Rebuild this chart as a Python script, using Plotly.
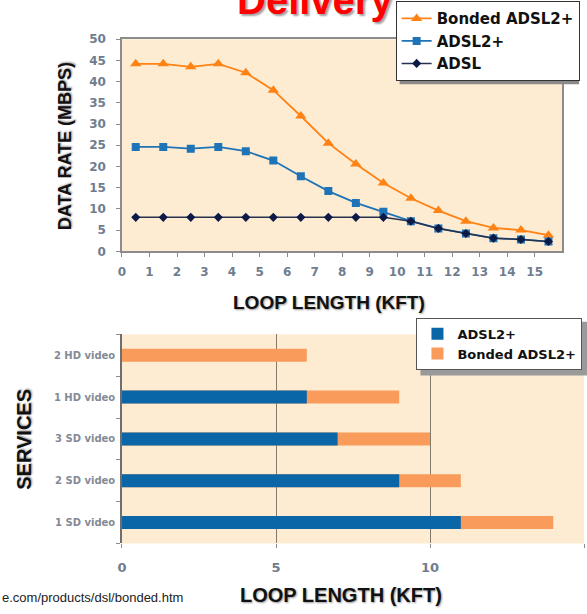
import plotly.graph_objects as go

# ---- data -------------------------------------------------------------
loop_kft = [0.5, 1.5, 2.5, 3.5, 4.5, 5.5, 6.5, 7.5, 8.5, 9.5, 10.5, 11.5, 12.5, 13.5, 14.5, 15.5]
bonded_rate = [44.2, 44.2, 43.5, 44.2, 42.1, 38.0, 31.9, 25.5, 20.6, 16.1, 12.5, 9.6, 7.1, 5.5, 5.0, 3.8]
adsl2p_rate = [24.6, 24.6, 24.2, 24.6, 23.6, 21.4, 17.7, 14.2, 11.4, 9.3, 7.1, 5.4, 4.2, 3.1, 2.8, 2.3]
adsl_rate = [8.0, 8.0, 8.0, 8.0, 8.0, 8.0, 8.0, 8.0, 8.0, 8.0, 7.1, 5.4, 4.2, 3.1, 2.8, 2.3]

services = ["1 SD video", "2 SD video", "3 SD video", "1 HD video", "2 HD video"]
reach_adsl2p = [11, 9, 7, 6, 0]
reach_bonded = [14, 11, 10, 9, 6]

x_ticks = list(range(0, 16))
rate_grid = [10, 20, 30, 40]

# ---- styling ----------------------------------------------------------
W, H = 587, 614
PEACH = "#fdebd2"
GRID = "#857b6c"
TICK_FONT = dict(family="DejaVu Sans", size=12, color="#6f7d8f", weight="bold")
TITLE_FONT = dict(family="Liberation Sans", size=19, color="#111111", weight="bold",
                  shadow="1px 1px 2px #9a9a9a")
LEGEND_FONT = dict(family="DejaVu Sans", size=13, color="#111111", weight="bold")

ORANGE = "#ff8214"
BLUE = "#1f74b8"
NAVY = "#0c1a45"
BAR_BLUE = "#0b66a8"
BAR_ORANGE = "#f99b5b"


def px_x(p):
    return p / W


def px_y(p):
    return 1 - p / H


fig = go.Figure()

# ---- top chart: data rate vs loop length ------------------------------
fig.add_trace(go.Scatter(
    x=loop_kft, y=bonded_rate, name="Bonded ADSL2+", mode="lines+markers",
    line=dict(color=ORANGE, width=1.8),
    marker=dict(symbol="triangle-up", size=10, color=ORANGE),
    xaxis="x", yaxis="y", legend="legend"))
fig.add_trace(go.Scatter(
    x=loop_kft, y=adsl2p_rate, name="ADSL2+", mode="lines+markers",
    line=dict(color=BLUE, width=1.8),
    marker=dict(symbol="square", size=8, color=BLUE),
    xaxis="x", yaxis="y", legend="legend"))
fig.add_trace(go.Scatter(
    x=loop_kft, y=adsl_rate, name="ADSL", mode="lines+markers",
    line=dict(color="#26324f", width=1.5),
    marker=dict(symbol="diamond", size=7, color=NAVY),
    xaxis="x", yaxis="y", legend="legend"))

# ---- bottom chart: service reach ---------------------------------------
fig.add_trace(go.Bar(
    y=services, x=reach_bonded, name="Bonded ADSL2+", orientation="h",
    marker=dict(color=BAR_ORANGE, line=dict(width=0)),
    xaxis="x2", yaxis="y2", legend="legend2", legendrank=2))
fig.add_trace(go.Bar(
    y=services, x=reach_adsl2p, name="ADSL2+", orientation="h",
    marker=dict(color=BAR_BLUE, line=dict(width=0)),
    xaxis="x2", yaxis="y2", legend="legend2", legendrank=1))

fig.update_layout(
    width=W, height=H,
    margin=dict(l=0, r=0, t=0, b=0),
    paper_bgcolor="white",
    plot_bgcolor=PEACH,
    barmode="overlay",
    bargap=0.69,
    showlegend=True,
    xaxis=dict(
        domain=[px_x(118), px_x(562)], range=[0, 16],
        tickvals=x_ticks, ticks="outside", ticklen=4, tickcolor="#8c8c8c",
        ticklabelstandoff=5,
        showgrid=False, zeroline=False,
        showline=True, linecolor="#8c8c8c", linewidth=1.5, mirror=True,
        tickfont=TICK_FONT, anchor="y"),
    yaxis=dict(
        domain=[px_y(250), px_y(33)], range=[0, 50], dtick=5,
        ticks="outside", ticklen=4, tickcolor="#8c8c8c",
        ticklabelstandoff=8,
        showgrid=False, zeroline=False,
        showline=True, linecolor="#8c8c8c", linewidth=1.5, mirror=True,
        tickfont=TICK_FONT, anchor="x"),
    yaxis3=dict(
        overlaying="y", range=[0, 50], tickvals=rate_grid,
        showticklabels=False, showgrid=True, gridcolor=GRID, gridwidth=1.5,
        zeroline=False, showline=False, anchor="x"),
    xaxis2=dict(
        domain=[px_x(118), px_x(584)], range=[0, 15], dtick=5,
        ticks="outside", ticklen=4, tickcolor="#8c8c8c",
        ticklabelstandoff=8,
        showgrid=True, gridcolor=GRID, gridwidth=1.2, zeroline=False,
        showline=False, tickfont=dict(TICK_FONT, size=13), anchor="y2"),
    yaxis2=dict(
        domain=[px_y(549), px_y(335)], type="category",
        categoryorder="array", categoryarray=services,
        ticks="outside", tickson="boundaries", ticklen=4, tickcolor="#8c8c8c",
        ticklabelstandoff=3,
        showgrid=False, zeroline=False,
        showline=True, linecolor="#6e6e6e", linewidth=1.5,
        tickfont=dict(family="DejaVu Sans", size=10, color="#838a96", weight="bold"),
        anchor="x2"),
    legend=dict(
        x=px_x(394), y=px_y(-6), xanchor="left", yanchor="top",
        bgcolor="white", bordercolor="#333333", borderwidth=1,
        font=dict(LEGEND_FONT, size=15), traceorder="normal", tracegroupgap=2,
        itemwidth=30),
    legend2=dict(
        x=px_x(415), y=px_y(318), xanchor="left", yanchor="top",
        bgcolor="white", bordercolor="#555555", borderwidth=1,
        font=LEGEND_FONT, traceorder="normal", itemwidth=30),
)

# legend drop shadows
fig.add_shape(type="rect", xref="paper", yref="paper", layer="above",
              x0=px_x(398), x1=px_x(579), y0=px_y(79), y1=px_y(8),
              fillcolor="#8a8a8a", line=dict(width=0))
fig.add_shape(type="rect", xref="paper", yref="paper", layer="above",
              x0=px_x(419), x1=px_x(590), y0=px_y(377), y1=px_y(322),
              fillcolor="#9a9a9a", line=dict(width=0))

annotations = [
    dict(text="Delivery", x=px_x(313), y=px_y(17), xanchor="center", yanchor="bottom",
         font=dict(family="Liberation Sans", size=40, color="#ff0000", weight="bold",
                   shadow="2px 2px 2px #a0a0a0")),
    dict(text="DATA RATE (MBPS)", x=px_x(60), y=px_y(142), textangle=-90,
         xanchor="center", yanchor="middle", font=dict(TITLE_FONT, size=18)),
    dict(text="LOOP LENGTH (KFT)", x=px_x(327), y=px_y(302),
         xanchor="center", yanchor="middle", font=TITLE_FONT),
    dict(text="SERVICES", x=px_x(19), y=px_y(442), textangle=-90,
         xanchor="center", yanchor="middle", font=dict(TITLE_FONT, size=20)),
    dict(text="LOOP LENGTH (KFT)", x=px_x(339), y=px_y(602),
         xanchor="center", yanchor="middle", font=dict(TITLE_FONT, size=20)),
    dict(text="e.com/products/dsl/bonded.htm", x=px_x(-5), y=px_y(604),
         xanchor="left", yanchor="middle",
         font=dict(family="Liberation Sans", size=13, color="#222222")),
]
for a in annotations:
    a.update(xref="paper", yref="paper", showarrow=False)
fig.update_layout(annotations=annotations)

fig.write_html("out.html")
